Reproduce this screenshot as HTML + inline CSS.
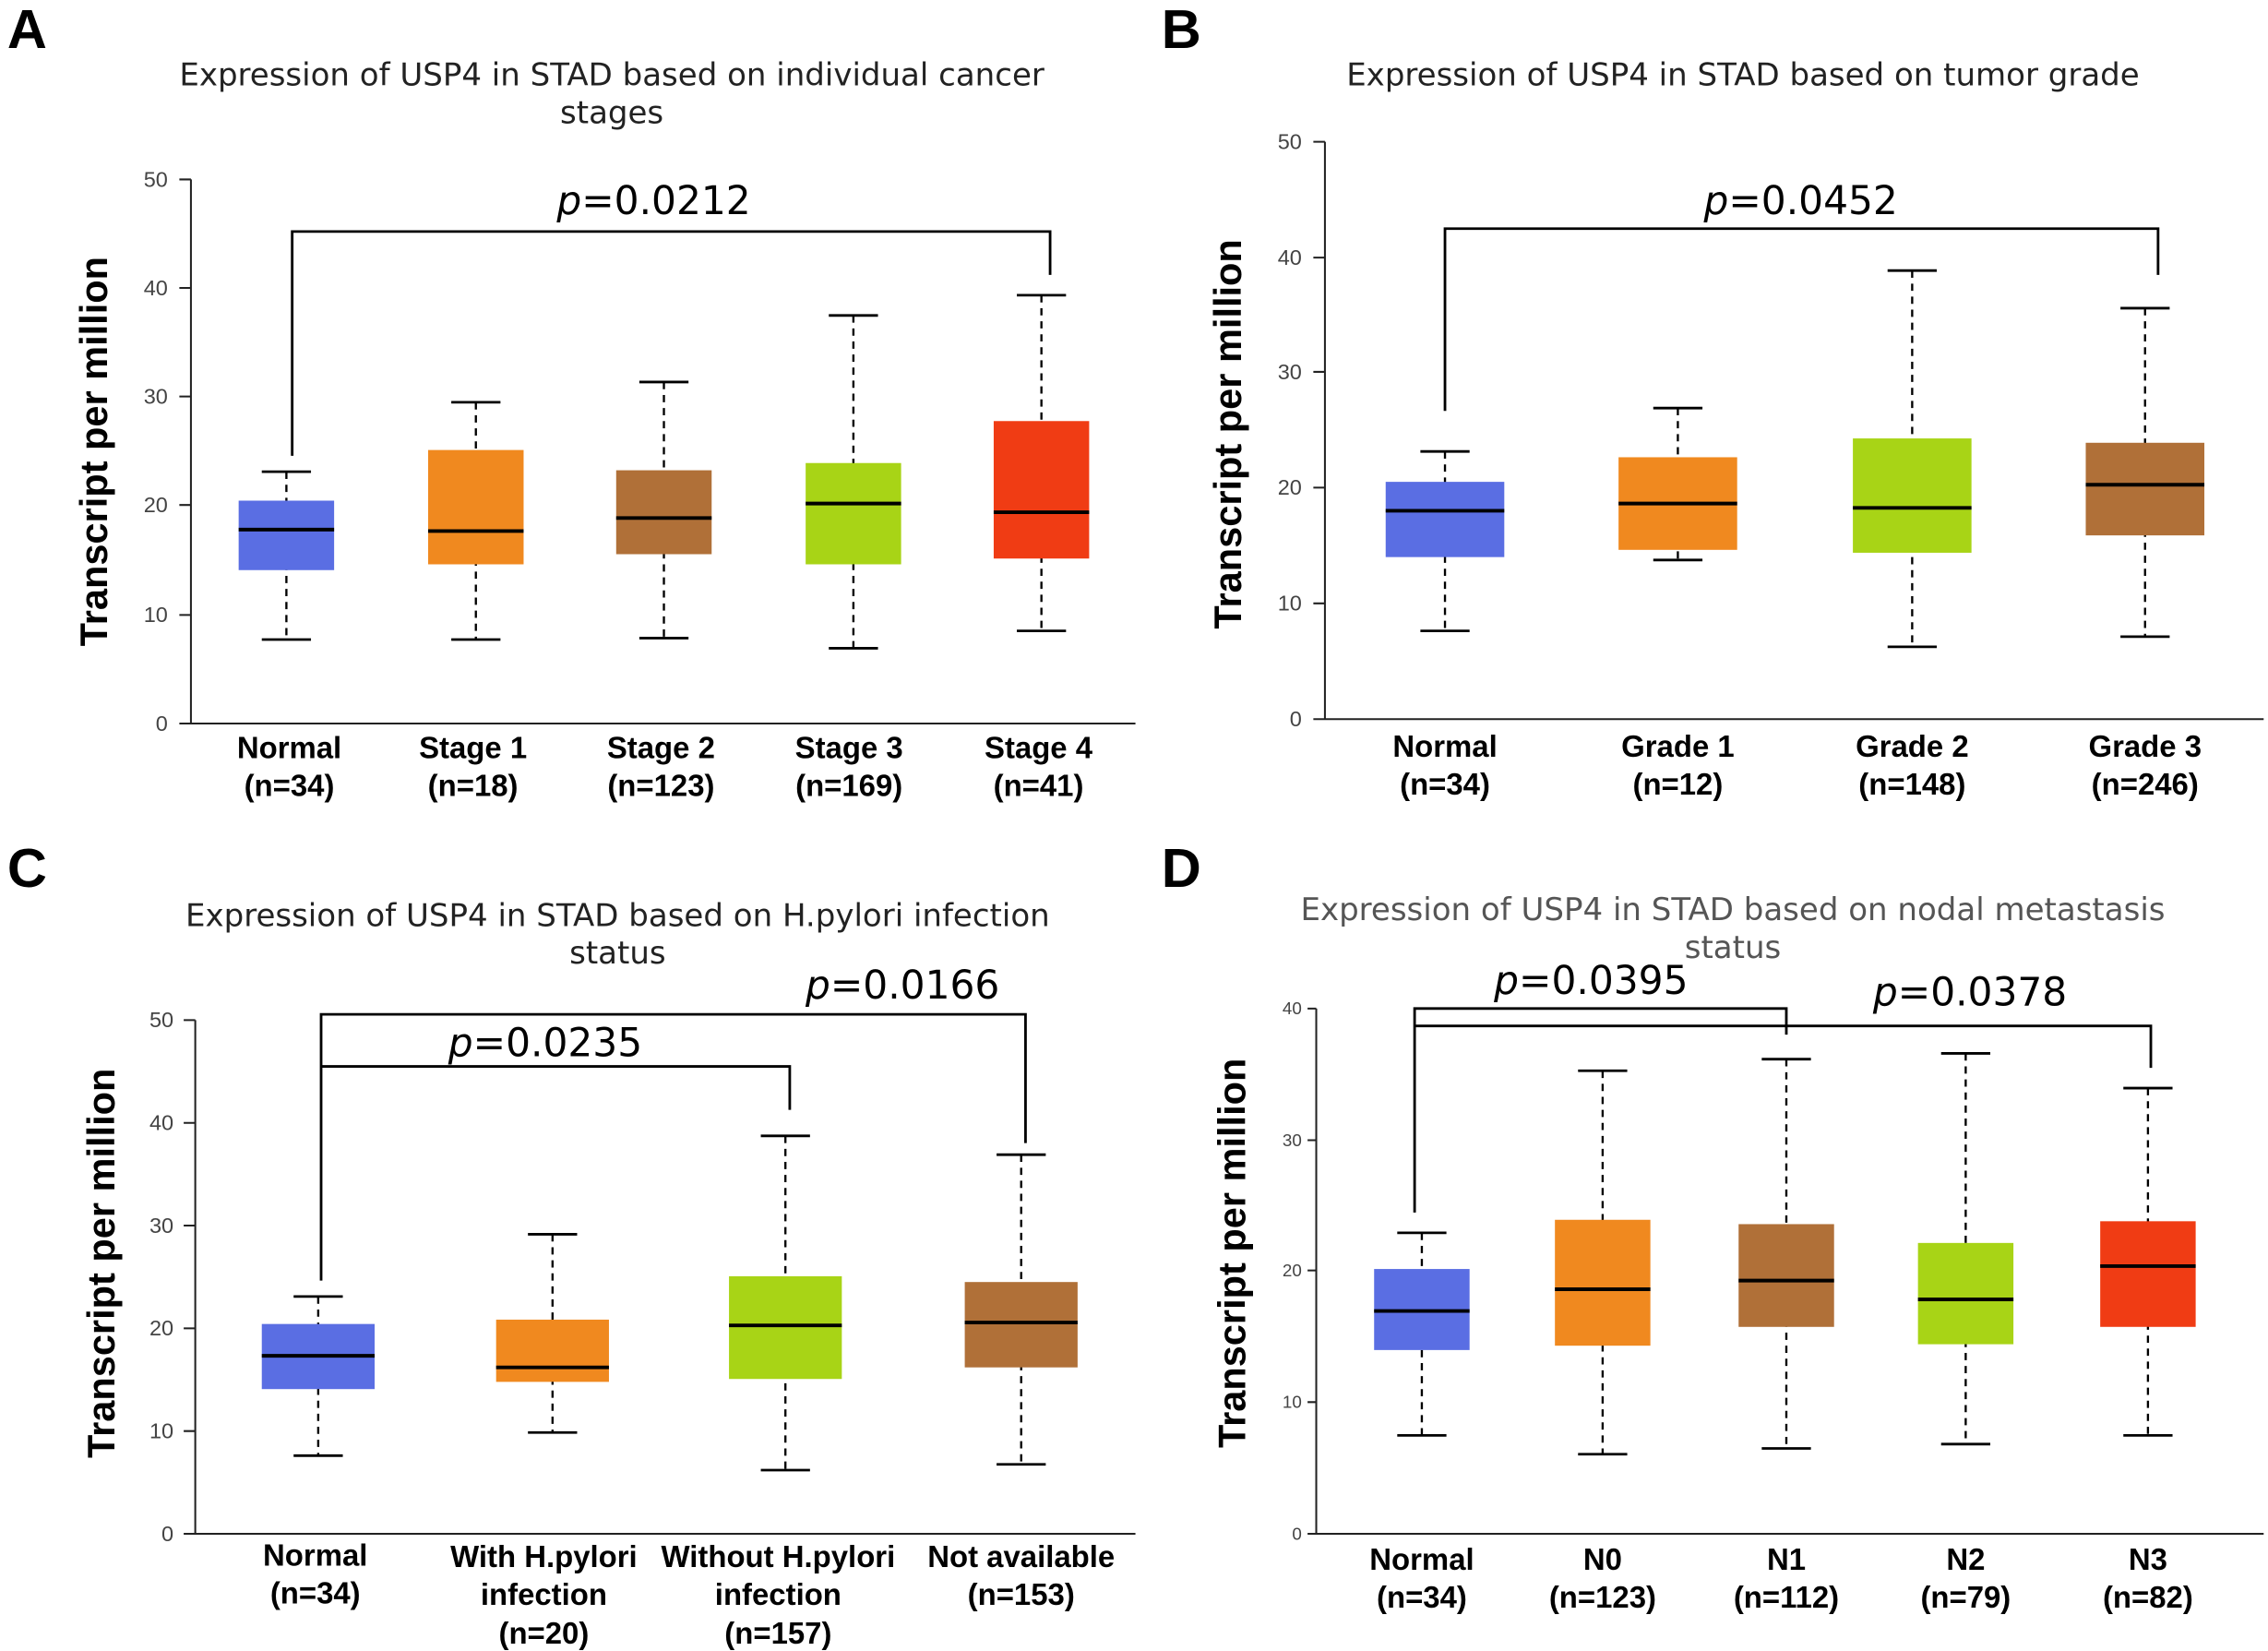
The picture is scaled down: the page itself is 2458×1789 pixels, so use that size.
<!DOCTYPE html>
<html><head><meta charset="utf-8"><style>
html,body{margin:0;padding:0;background:#fff}
svg{display:block}
text{font-family:"Liberation Sans",Arial,sans-serif}
.t{font-family:"DejaVu Sans","Liberation Sans",sans-serif;font-size:21.7px;fill:#222}
.tk{font-size:15px;fill:#444;text-anchor:end}
.xl{font-size:21px;font-weight:bold;text-anchor:middle;fill:#000}
.yl{font-size:26.5px;font-weight:bold;text-anchor:middle;fill:#000}
.p{font-family:"DejaVu Sans","Liberation Sans",sans-serif;font-size:27px;fill:#000;text-anchor:middle}
.L{font-size:38px;font-weight:bold;fill:#000}
.w{stroke:#000;stroke-width:1.5;stroke-dasharray:5,4;fill:none}
.c{stroke:#000;stroke-width:1.8}
.m{stroke:#000;stroke-width:2.5}
.ax{stroke:#222;stroke-width:1.3;fill:none}
.br{stroke:#000;stroke-width:1.8;fill:none}
</style></head><body>
<svg width="2458" height="1789" viewBox="0 0 1568 1141" preserveAspectRatio="none" xmlns="http://www.w3.org/2000/svg">
<text class="L" x="5" y="33">A</text><text class="L" x="803" y="33">B</text>
<text class="L" x="5" y="613">C</text><text class="L" x="803" y="613">D</text>

<!-- A -->
<text class="t" x="423" y="59" text-anchor="middle">Expression of USP4 in STAD based on individual cancer</text>
<text class="t" x="423" y="85" text-anchor="middle">stages</text>
<path class="ax" d="M132,124V500H785M124,500H132M124,425H132M124,349H132M124,274H132M124,199H132M124,124H132"/>
<text class="tk" x="116" y="505">0</text><text class="tk" x="116" y="430">10</text><text class="tk" x="116" y="354">20</text><text class="tk" x="116" y="279">30</text><text class="tk" x="116" y="204">40</text><text class="tk" x="116" y="129">50</text>
<text class="yl" transform="translate(74,312) rotate(-90)">Transcript per million</text>
<path class="br" d="M202,315V160H726V190"/>
<text class="p" x="452" y="148"><tspan font-style="italic">p</tspan>=0.0212</text>
<path class="w" d="M198,326V442M329,278V442M459,264V441M590,218V448M720,204V436"/>
<path class="c" d="M181,326H215M181,442H215M312,278H346M312,442H346M442,264H476M442,441H476M573,218H607M573,448H607M703,204H737M703,436H737"/>
<rect x="165" y="346" width="66" height="48" fill="#5a6ee3"/>
<rect x="296" y="311" width="66" height="79" fill="#f0891f"/>
<rect x="426" y="325" width="66" height="58" fill="#b07038"/>
<rect x="557" y="320" width="66" height="70" fill="#a8d416"/>
<rect x="687" y="291" width="66" height="95" fill="#f03c14"/>
<path class="m" d="M165,366H231M296,367H362M426,358H492M557,348H623M687,354H753"/>
<text class="xl" x="200" y="524">Normal</text><text class="xl" x="200" y="550">(n=34)</text>
<text class="xl" x="327" y="524">Stage 1</text><text class="xl" x="327" y="550">(n=18)</text>
<text class="xl" x="457" y="524">Stage 2</text><text class="xl" x="457" y="550">(n=123)</text>
<text class="xl" x="587" y="524">Stage 3</text><text class="xl" x="587" y="550">(n=169)</text>
<text class="xl" x="718" y="524">Stage 4</text><text class="xl" x="718" y="550">(n=41)</text>

<!-- B -->
<text class="t" x="1205" y="59" text-anchor="middle">Expression of USP4 in STAD based on tumor grade</text>
<path class="ax" d="M916,98V497H1565M908,497H916M908,417H916M908,337H916M908,257H916M908,178H916M908,98H916"/>
<text class="tk" x="900" y="502">0</text><text class="tk" x="900" y="422">10</text><text class="tk" x="900" y="342">20</text><text class="tk" x="900" y="262">30</text><text class="tk" x="900" y="183">40</text><text class="tk" x="900" y="103">50</text>
<text class="yl" transform="translate(858,300) rotate(-90)">Transcript per million</text>
<path class="br" d="M999,284V158H1492V190"/>
<text class="p" x="1245" y="148"><tspan font-style="italic">p</tspan>=0.0452</text>
<path class="w" d="M999,312V436M1160,282V387M1322,187V447M1483,213V440"/>
<path class="c" d="M982,312H1016M982,436H1016M1143,282H1177M1143,387H1177M1305,187H1339M1305,447H1339M1466,213H1500M1466,440H1500"/>
<rect x="958" y="333" width="82" height="52" fill="#5a6ee3"/>
<rect x="1119" y="316" width="82" height="64" fill="#f0891f"/>
<rect x="1281" y="303" width="82" height="79" fill="#a8d416"/>
<rect x="1442" y="306" width="82" height="64" fill="#b07038"/>
<path class="m" d="M958,353H1040M1119,348H1201M1281,351H1363M1442,335H1524"/>
<text class="xl" x="999" y="523">Normal</text><text class="xl" x="999" y="549">(n=34)</text>
<text class="xl" x="1160" y="523">Grade 1</text><text class="xl" x="1160" y="549">(n=12)</text>
<text class="xl" x="1322" y="523">Grade 2</text><text class="xl" x="1322" y="549">(n=148)</text>
<text class="xl" x="1483" y="523">Grade 3</text><text class="xl" x="1483" y="549">(n=246)</text>

<!-- C -->
<text class="t" x="427" y="640" text-anchor="middle">Expression of USP4 in STAD based on H.pylori infection</text>
<text class="t" x="427" y="666" text-anchor="middle">status</text>
<path class="ax" d="M135,705V1060H785M127,1060H135M127,989H135M127,918H135M127,847H135M127,776H135M127,705H135"/>
<text class="tk" x="120" y="1065">0</text><text class="tk" x="120" y="994">10</text><text class="tk" x="120" y="923">20</text><text class="tk" x="120" y="852">30</text><text class="tk" x="120" y="781">40</text><text class="tk" x="120" y="710">50</text>
<text class="yl" transform="translate(79,873) rotate(-90)">Transcript per million</text>
<path class="br" d="M222,885V701H709V790M222,737H546V767"/>
<text class="p" x="377" y="730"><tspan font-style="italic">p</tspan>=0.0235</text>
<text class="p" x="624" y="690"><tspan font-style="italic">p</tspan>=0.0166</text>
<path class="w" d="M220,896V1006M382,853V990M543,785V1016M706,798V1012"/>
<path class="c" d="M203,896H237M203,1006H237M365,853H399M365,990H399M526,785H560M526,1016H560M689,798H723M689,1012H723"/>
<rect x="181" y="915" width="78" height="45" fill="#5a6ee3"/>
<rect x="343" y="912" width="78" height="43" fill="#f0891f"/>
<rect x="504" y="882" width="78" height="71" fill="#a8d416"/>
<rect x="667" y="886" width="78" height="59" fill="#b07038"/>
<path class="m" d="M181,937H259M343,945H421M504,916H582M667,914H745"/>
<text class="xl" x="218" y="1082">Normal</text><text class="xl" x="218" y="1108">(n=34)</text>
<text class="xl" x="376" y="1083">With H.pylori</text><text class="xl" x="376" y="1109">infection</text><text class="xl" x="376" y="1136">(n=20)</text>
<text class="xl" x="538" y="1083">Without H.pylori</text><text class="xl" x="538" y="1109">infection</text><text class="xl" x="538" y="1136">(n=157)</text>
<text class="xl" x="706" y="1083">Not available</text><text class="xl" x="706" y="1109">(n=153)</text>

<!-- D -->
<text class="t" x="1198" y="636" text-anchor="middle" style="fill:#555">Expression of USP4 in STAD based on nodal metastasis</text>
<text class="t" x="1198" y="662" text-anchor="middle" style="fill:#555">status</text>
<path class="ax" d="M910,697V1060H1565M904,1060H910M904,969H910M904,878H910M904,788H910M904,697H910"/>
<text class="tk" x="900" y="1064" style="font-size:12px">0</text><text class="tk" x="900" y="973" style="font-size:12px">10</text><text class="tk" x="900" y="882" style="font-size:12px">20</text><text class="tk" x="900" y="792" style="font-size:12px">30</text><text class="tk" x="900" y="701" style="font-size:12px">40</text>
<text class="yl" transform="translate(861,866) rotate(-90)">Transcript per million</text>
<path class="br" d="M978,838V697H1235V715M978,709H1487V738"/>
<text class="p" x="1100" y="687"><tspan font-style="italic">p</tspan>=0.0395</text>
<text class="p" x="1362" y="695"><tspan font-style="italic">p</tspan>=0.0378</text>
<path class="w" d="M983,852V992M1108,740V1005M1235,732V1001M1359,728V998M1485,752V992"/>
<path class="c" d="M966,852H1000M966,992H1000M1091,740H1125M1091,1005H1125M1218,732H1252M1218,1001H1252M1342,728H1376M1342,998H1376M1468,752H1502M1468,992H1502"/>
<rect x="950" y="877" width="66" height="56" fill="#5a6ee3"/>
<rect x="1075" y="843" width="66" height="87" fill="#f0891f"/>
<rect x="1202" y="846" width="66" height="71" fill="#b07038"/>
<rect x="1326" y="859" width="66" height="70" fill="#a8d416"/>
<rect x="1452" y="844" width="66" height="73" fill="#f03c14"/>
<path class="m" d="M950,906H1016M1075,891H1141M1202,885H1268M1326,898H1392M1452,875H1518"/>
<text class="xl" x="983" y="1085">Normal</text><text class="xl" x="983" y="1111">(n=34)</text>
<text class="xl" x="1108" y="1085">N0</text><text class="xl" x="1108" y="1111">(n=123)</text>
<text class="xl" x="1235" y="1085">N1</text><text class="xl" x="1235" y="1111">(n=112)</text>
<text class="xl" x="1359" y="1085">N2</text><text class="xl" x="1359" y="1111">(n=79)</text>
<text class="xl" x="1485" y="1085">N3</text><text class="xl" x="1485" y="1111">(n=82)</text>
</svg>
</body></html>
